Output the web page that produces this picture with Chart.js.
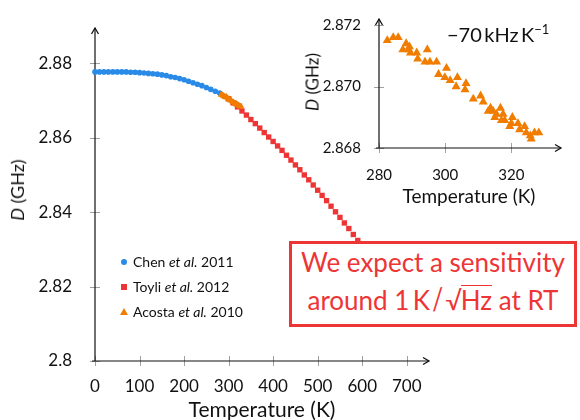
<!DOCTYPE html>
<html>
<head>
<meta charset="utf-8">
<script src="https://cdn.jsdelivr.net/npm/chart.js@4.4.0/dist/chart.umd.min.js"></script>
<style>
  body { margin: 0; background: #fff; font-family: Lato, "Open Sans", sans-serif; }
  #wrap { position: relative; width: 580px; height: 420px; overflow: hidden; background: #fff; }
  canvas { position: absolute; top: 0; }
  #main { left: 0; }
  #inset { left: 300px; }
  .t { position: absolute; white-space: nowrap; color: #111; line-height: 1; }
  .rot { transform: translate(-50%, -50%) rotate(-90deg); }
  .ctr { transform: translate(-50%, -50%); }
  .leg { position: absolute; left: 133px; font-size: 14px; color: #111; white-space: nowrap; line-height: 1; transform: translateY(-50%); }
  .mk { position: absolute; }
  #box {
    position: absolute; left: 289px; top: 241px; width: 288px; height: 86px;
    box-sizing: border-box; border: 3px solid #ee3535; background: #fff;
    color: #ee3535; font-size: 26px; line-height: 36px; text-align: center; padding-top: 0;
  }
  .sl { font-size: 30px; display: inline-block; transform: scaleX(0.8); margin: 0 1px; }
  .ov { display: inline-block; line-height: 1; border-top: 1.5px solid #ee3535; padding-top: 1px; margin-left: -1px; }
</style>
</head>
<body>
<div id="wrap">
  <canvas id="main" width="580" height="420"></canvas>
  <canvas id="inset" width="280" height="210"></canvas>

  <div class="t rot" style="left:17px; top:190px; font-size:18px;"><i>D</i> (GHz)</div>
  <div class="t ctr" style="left:262px; top:408px; font-size:21px;">Temperature (K)</div>
  <div class="t rot" style="left:312px; top:82px; font-size:17px;"><i>D</i> (GHz)</div>
  <div class="t ctr" style="left:469px; top:195px; font-size:19px;">Temperature (K)</div>
  <div class="t" style="left:447px; top:23px; font-size:20px;">&minus;70&thinsp;kHz&thinsp;K<sup style="font-size:13px;">&minus;1</sup></div>

  <div class="mk" style="left:121px; top:259px; width:6px; height:6px; border-radius:50%; background:#2a8ae8;"></div>
  <div class="leg" style="top:262px;">Chen <i>et al.</i> 2011</div>
  <div class="mk" style="left:121px; top:284px; width:6px; height:6px; background:#ee3535;"></div>
  <div class="leg" style="top:287px;">Toyli <i>et al.</i> 2012</div>
  <div class="mk" style="left:120px; top:308px; width:0; height:0; border-left:4px solid transparent; border-right:4px solid transparent; border-bottom:7px solid #f07c00;"></div>
  <div class="leg" style="top:312px;">Acosta <i>et al.</i> 2010</div>

  <div id="box">We expect a sensitivity<br>around 1&thinsp;K<span class="sl">/</span>&radic;<span class="ov">Hz</span> at RT</div>
</div>

<script>
// Chen et al. 2011 (blue circles)
const chenT = [0, 10, 20, 30, 40, 50, 60, 70, 80, 90, 100, 110, 120, 130, 140, 150, 160, 170, 180, 190, 200, 210, 220, 230, 240, 250, 260, 270, 280];
const chenD = [2.8777, 2.8777, 2.8777, 2.8777, 2.8777, 2.8777, 2.8777, 2.8777, 2.8776, 2.8776, 2.8775, 2.8774, 2.8773, 2.8772, 2.8771, 2.8769, 2.8767, 2.8764, 2.8762, 2.8759, 2.8756, 2.8752, 2.8748, 2.8744, 2.8740, 2.8735, 2.8730, 2.8725, 2.8720];

// Toyli et al. 2012 (red squares)
const toyliT = [300, 310, 320, 330, 340, 350, 360, 370, 380, 390, 400, 410, 420, 430, 440, 450, 460, 470, 480, 490, 500, 510, 520, 530, 540, 550, 560, 570, 580, 590, 600];
const toyliD = [2.8705, 2.8694, 2.8683, 2.8672, 2.8661, 2.8649, 2.8638, 2.8626, 2.8614, 2.8602, 2.8590, 2.8578, 2.8566, 2.8553, 2.8540, 2.8527, 2.8514, 2.8500, 2.8487, 2.8473, 2.8459, 2.8445, 2.8431, 2.8416, 2.8401, 2.8386, 2.8371, 2.8356, 2.8340, 2.8324, 2.8308];

// Acosta et al. 2010 (orange triangles)
const acostaT = [282.5, 284.3, 285.8, 287.2, 288.2, 289.0, 289.2, 289.5, 291.4, 291.7, 294.6, 293.9, 295.4, 297.4, 298.0, 300.4, 299.9, 301.5, 303.7, 303.3, 306.3, 306.0, 308.5, 310.7, 311.5, 313.0, 313.7, 314.5, 315.5, 316.7, 317.5, 318.0, 320.3, 319.5, 322.0, 322.5, 324.0, 324.5, 325.7, 326.0, 327.0, 328.3, 315.0, 317.0, 320.0];
const acostaD = [2.8715, 2.8716, 2.8716, 2.8712, 2.8714, 2.8712, 2.8713, 2.8711, 2.8711, 2.8709, 2.8712, 2.8708, 2.8708, 2.8708, 2.8704, 2.8706, 2.8703, 2.8702, 2.8703, 2.8700, 2.8701, 2.8699, 2.8696, 2.8697, 2.8695, 2.8692, 2.8693, 2.8692, 2.8691, 2.8693, 2.8691, 2.8689, 2.8690, 2.8687, 2.8688, 2.8686, 2.8687, 2.8685, 2.8684, 2.8683, 2.8685, 2.8685, 2.8690, 2.8689, 2.8688];

// tick labels
const mainXTicks = [0, 100, 200, 300, 400, 500, 600, 700];
const mainYTicks = [2.8, 2.82, 2.84, 2.86, 2.88];
const insetXTicks = [280, 300, 320];
const insetYTicks = [2.868, 2.870, 2.872];

const pts = (xs, ys) => xs.map((x, i) => ({ x, y: ys[i] }));

// axes through the origin, with arrows and ticks crossing the line
const arrowAxes = {
  id: "arrowAxes",
  beforeDatasetsDraw(chart) {
    const { ctx, chartArea: a, scales: { x, y } } = chart;
    ctx.save();
    ctx.strokeStyle = "#a0a0a0";
    ctx.lineWidth = 1;
    ctx.beginPath();
    x.ticks.forEach(t => {
      const px = Math.round(x.getPixelForValue(t.value)) + 0.5;
      ctx.moveTo(px, a.bottom - 5); ctx.lineTo(px, a.bottom + 5);
    });
    y.ticks.forEach(t => {
      const py = Math.round(y.getPixelForValue(t.value)) + 0.5;
      ctx.moveTo(a.left - 5, py); ctx.lineTo(a.left + 5, py);
    });
    ctx.stroke();

    ctx.strokeStyle = "#111";
    ctx.lineWidth = 1.2;
    ctx.beginPath();
    ctx.moveTo(a.left, a.bottom); ctx.lineTo(a.left, a.top);
    ctx.moveTo(a.left - 3, a.bottom); ctx.lineTo(a.right, a.bottom);
    ctx.stroke();
    ctx.lineWidth = 1.3;
    ctx.beginPath();
    ctx.moveTo(a.left - 3.5, a.top + 6); ctx.lineTo(a.left, a.top); ctx.lineTo(a.left + 3.5, a.top + 6);
    ctx.moveTo(a.right - 6, a.bottom - 3.5); ctx.lineTo(a.right, a.bottom); ctx.lineTo(a.right - 6, a.bottom + 3.5);
    ctx.stroke();
    ctx.restore();
  }
};

function makeScale(min, max, keep, fontSize, pad, fmt, fit, horiz) {
  return {
    type: "linear",
    min, max,
    grid: { display: false },
    border: { display: false },
    ticks: {
      padding: pad,
      color: "#111",
      font: { family: "Lato", size: fontSize },
      maxRotation: 0,
      autoSkip: false,
      callback: fmt
    },
    // use exactly the listed ticks
    afterBuildTicks: s => { s.ticks = keep.map(v => ({ value: v })); },
    afterFit: s => { if (horiz) s.height = fit; else s.width = fit; }
  };
}

Chart.defaults.animation = false;

new Chart(document.getElementById("main"), {
  type: "scatter",
  data: {
    datasets: [
      { label: "Acosta et al. 2010", data: pts(acostaT, acostaD), pointStyle: "triangle", pointRadius: 3.4, backgroundColor: "#f07c00", borderColor: "#f07c00", borderWidth: 0, clip: false },
      { label: "Toyli et al. 2012", data: pts(toyliT, toyliD), pointStyle: "rect", pointRadius: 3.8, backgroundColor: "#ee3535", borderColor: "#ee3535", borderWidth: 0, clip: false },
      { label: "Chen et al. 2011", data: pts(chenT, chenD), pointStyle: "circle", pointRadius: 2.8, backgroundColor: "#2a8ae8", borderColor: "#2a8ae8", borderWidth: 0, clip: false }
    ]
  },
  options: {
    responsive: false,
    events: [],
    layout: { padding: { left: 0, top: 28, right: 151, bottom: 9 } },
    plugins: { legend: { display: false }, tooltip: { enabled: false } },
    scales: {
      x: makeScale(0, 750, mainXTicks, 17, 7, v => String(v), 50, true),
      y: makeScale(2.8, 2.8895, mainYTicks, 17, 15, v => (+v).toFixed(2).replace(/0$/, ""), 95, false)
    }
  },
  plugins: [arrowAxes]
});

new Chart(document.getElementById("inset"), {
  type: "scatter",
  data: {
    datasets: [
      { label: "Acosta et al. 2010", data: pts(acostaT, acostaD), pointStyle: "triangle", pointRadius: 5.2, backgroundColor: "#f07c00", borderColor: "#f07c00", borderWidth: 0, clip: false }
    ]
  },
  options: {
    responsive: false,
    events: [],
    layout: { padding: { left: 0, top: 10, right: 19, bottom: 12 } },
    plugins: { legend: { display: false }, tooltip: { enabled: false } },
    scales: {
      x: makeScale(280, 335, insetXTicks, 15, 10, v => String(v), 50, true),
      y: makeScale(2.868, 2.8722, insetYTicks, 15, 10, v => (+v).toFixed(3), 79, false)
    }
  },
  plugins: [arrowAxes]
});
</script>
</body>
</html>
